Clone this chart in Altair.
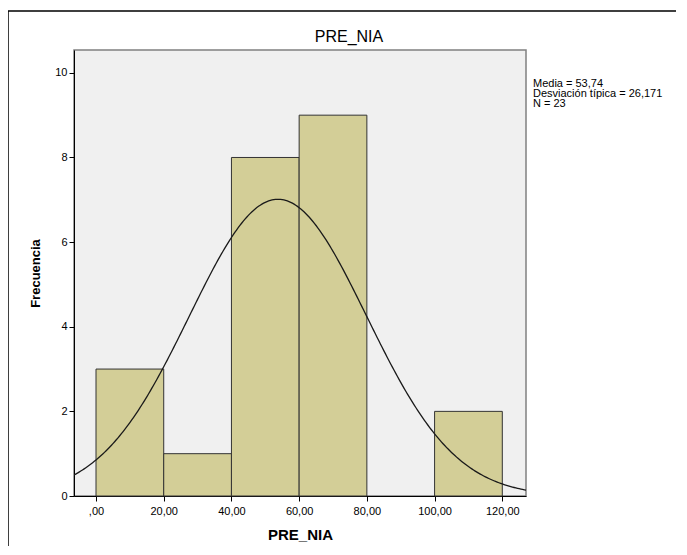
import altair as alt
import pandas as pd

# Histogram bins (PRE_NIA) and frequencies
bin_start = [0, 20, 40, 60, 80, 100]
bin_end = [20, 40, 60, 80, 100, 120]
freq = [3, 1, 8, 9, 0, 2]

# Summary statistics shown in the chart
mean = 53.74
sd = 26.171
n = 23
bin_width = 20

x_ticks = [0, 20, 40, 60, 80, 100, 120]
y_ticks = [0, 2, 4, 6, 8, 10]
stats_text = ["Media = 53,74", "Desviación típica = 26,171", "N = 23"]
chart_title = "PRE_NIA"

W, H = 452, 446
XDOM = [-6.5, 127.0]
YDOM = [0, 10.54]

bars_df = pd.DataFrame({"start": bin_start, "end": bin_end, "freq": freq})
bars_df = bars_df[bars_df["freq"] > 0]

xscale = alt.Scale(domain=XDOM, nice=False, zero=False)
yscale = alt.Scale(domain=YDOM, nice=False)

xaxis = alt.Axis(
    values=x_ticks, title="PRE_NIA", grid=False,
    labelExpr="datum.value == 0 ? ',00' : datum.value + ',00'",
    labelFont="Liberation Sans", labelFontSize=11, labelColor="#000",
    titleFont="Liberation Sans", titleFontSize=15, titleFontWeight="bold", titleColor="#000",
    domainColor="#000", tickColor="#000", tickSize=5, labelPadding=4, titlePadding=11,
)
yaxis = alt.Axis(
    values=y_ticks, title="Frecuencia", grid=False, format="d",
    labelFont="Liberation Sans", labelFontSize=11, labelColor="#000",
    titleFont="Liberation Sans", titleFontSize=13, titleFontWeight="bold", titleColor="#000",
    domainColor="#000", tickColor="#000", tickSize=5, labelPadding=2, titlePadding=12,
)

bars = alt.Chart(bars_df).mark_rect(
    fill="#d3ce97", stroke="#333333", strokeWidth=1
).encode(
    x=alt.X("start:Q", scale=xscale, axis=xaxis),
    x2="end:Q",
    y=alt.Y("freq:Q", scale=yscale, axis=yaxis),
    y2=alt.datum(0),
)

curve_expr = (
    f"{n}*{bin_width}*exp(-0.5*pow((datum.x-{mean})/{sd},2))/({sd}*sqrt(2*PI))"
)
curve = alt.Chart(alt.sequence(-7, 128, 0.5, as_="x")).transform_calculate(
    dens=curve_expr
).mark_line(color="#1a1a1a", strokeWidth=1.3, clip=True).encode(
    x=alt.X("x:Q", scale=xscale),
    y=alt.Y("dens:Q", scale=yscale),
)

stats = alt.Chart(pd.DataFrame({"t": [stats_text]})).mark_text(
    align="left", baseline="alphabetic", font="Liberation Sans", fontSize=11,
    lineHeight=10, color="#000",
).encode(
    text="t",
    x=alt.value(W + 7),
    y=alt.value(37),
)

title = alt.Chart(pd.DataFrame({"t": [chart_title]})).mark_text(
    align="center", baseline="alphabetic", font="Liberation Sans", fontSize=16,
    color="#000",
).encode(
    text="t",
    x=alt.value(275),
    y=alt.value(-8),
)

frame = alt.Chart(pd.DataFrame({"a": [0]})).mark_rect(
    fill="transparent", stroke="#000", strokeWidth=1.5
).encode(
    x=alt.value(-66), x2=alt.value(800),
    y=alt.value(-39), y2=alt.value(800),
)

chart = alt.layer(frame, bars, curve, stats, title).properties(
    width=W, height=H,
    autosize=alt.AutoSizeParams(type="none"),
    padding={"left": 66, "top": 42, "right": 150, "bottom": 50},
).configure_view(
    fill="#f0f0f0", stroke="#808080", strokeWidth=1.5
)

chart.save("out.html", embed_options={"renderer": "svg", "actions": False})
